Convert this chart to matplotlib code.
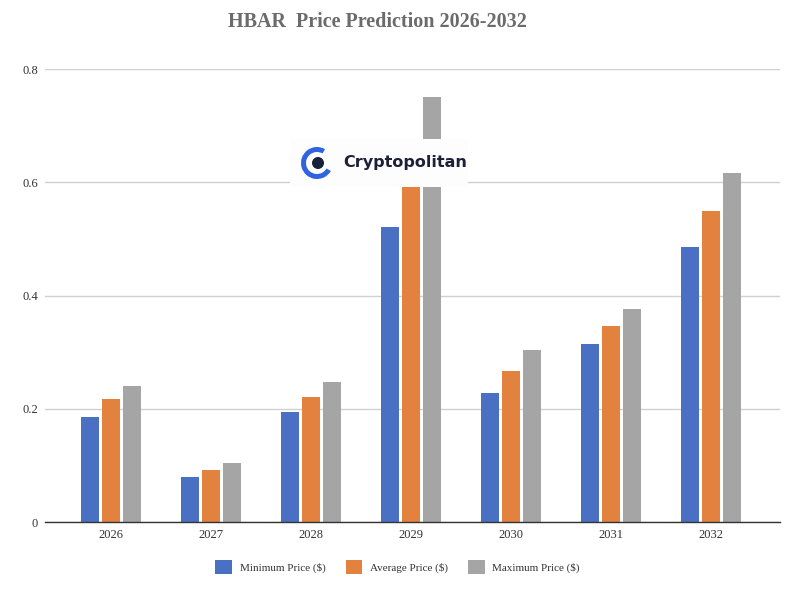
import matplotlib
matplotlib.use("Agg")
import matplotlib.pyplot as plt
from matplotlib.patches import Rectangle, Circle, Wedge
import numpy as np

years = ["2026", "2027", "2028", "2029", "2030", "2031", "2032"]
min_price = [0.185, 0.080, 0.194, 0.521, 0.228, 0.314, 0.486]
avg_price = [0.217, 0.092, 0.221, 0.600, 0.267, 0.346, 0.549]
max_price = [0.240, 0.104, 0.247, 0.750, 0.304, 0.376, 0.616]
series_names = ["Minimum Price ($)", "Average Price ($)", "Maximum Price ($)"]
colors = ["#4A70C3", "#E3823F", "#A5A5A5"]
yticks = [0, 0.2, 0.4, 0.6, 0.8]
ytick_labels = ["0", "0.2", "0.4", "0.6", "0.8"]

plt.rcParams['font.family'] = ['Liberation Serif', 'DejaVu Serif']

fig = plt.figure(figsize=(8, 5.92), dpi=100)
ax = fig.add_axes([0.05625, 0.1182, 0.91875, 0.7652])

x = np.arange(len(years))
width = 0.18
offset = 0.21
for i, (vals, name, c) in enumerate(zip([min_price, avg_price, max_price], series_names, colors)):
    ax.bar(x + (i - 1) * offset, vals, width=width, color=c, label=name, zorder=2)

ax.set_xlim(-0.66, 6.69)
ax.set_ylim(0, 0.8)
ax.set_yticks(yticks)
ax.set_yticklabels(ytick_labels)
ax.set_xticks(x)
ax.set_xticklabels(years)
ax.tick_params(axis='both', length=0, labelsize=9, colors='#333333')
ax.tick_params(axis='y', pad=5)
ax.tick_params(axis='x', pad=5)
ax.yaxis.grid(True, color='#D0D0D0', linewidth=1, zorder=0)
ax.set_axisbelow(True)
for s in ['top', 'right', 'left']:
    ax.spines[s].set_visible(False)
ax.spines['bottom'].set_color('#333333')
ax.spines['bottom'].set_linewidth(1)
ax.spines['bottom'].set_zorder(3)

# watermark logo
fig.patches.append(Rectangle((290 / 800, 1 - 187 / 592), 178 / 800, 48 / 592,
                             transform=fig.transFigure, facecolor='#FDFDFD',
                             edgecolor='none', zorder=5))
ring = Wedge((317, 592 - 163), 16, 60, 330, width=5, transform=None,
             facecolor='#2F63E0', edgecolor='none', zorder=6)
fig.patches.append(ring)
inner = Circle((318, 592 - 163), 6, transform=None, facecolor='#1A1F3A', zorder=6)
fig.patches.append(inner)
fig.text(343 / 800, 1 - 163 / 592, "Cryptopolitan", fontsize=11.5, fontweight='bold',
         family=['DejaVu Sans'], color='#1C2038', va='center', ha='left', zorder=7)

fig.suptitle("HBAR  Price Prediction 2026-2032", x=0.472, y=0.98, fontsize=14.5,
             fontweight='bold', color='#6B6B6B')

leg = fig.legend(loc='center', bbox_to_anchor=(0.497, 1 - 567 / 592), ncol=3,
                 frameon=False, fontsize=8, handlelength=1.5, handleheight=1.5,
                 columnspacing=1.8, handletextpad=0.7)
for t in leg.get_texts():
    t.set_color('#333333')

fig.savefig("out.png", dpi=100)
